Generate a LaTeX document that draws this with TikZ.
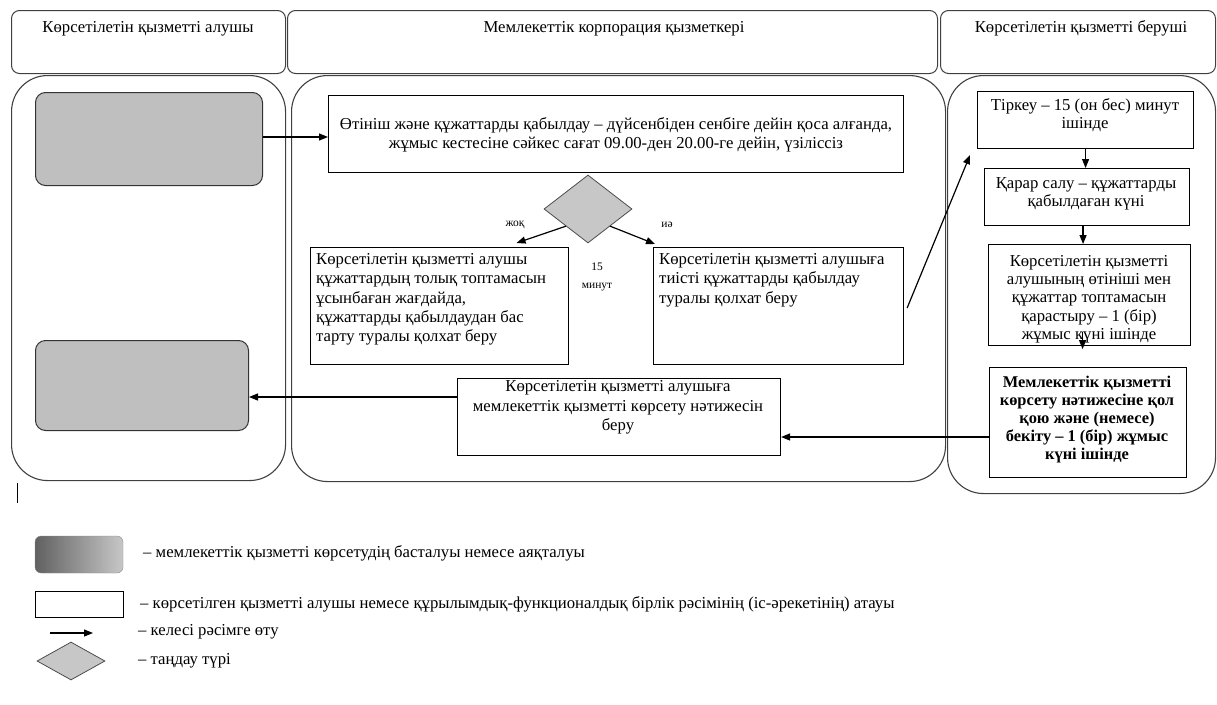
\documentclass[tikz,border=0pt]{standalone}
\usepackage{fontspec}
\setmainfont{Liberation Serif}
\usetikzlibrary{arrows.meta,shapes.geometric,calc}
\begin{document}
\begin{tikzpicture}[x=1pt,y=-1pt,
  hdr/.style={draw=black!75, line width=1pt, rounded corners=8pt, anchor=north west, inner sep=0pt},
  lane/.style={draw=black!75, line width=1.1pt, rounded corners=36pt, anchor=north west, inner sep=0pt},
  stepbox/.style={draw=black, line width=1.1pt, anchor=north west, inner sep=0pt},
  term/.style={draw=black!80, fill=black!25, line width=1pt, rounded corners=10pt, anchor=north west, inner sep=0pt},
  dia/.style={diamond, draw=black!70, fill=black!22, line width=0.8pt, inner sep=0pt},
  txt/.style={font=\fontsize{16.7}{19.4}\selectfont, inner sep=0pt},
  rtxt/.style={font=\fontsize{16.7}{18.3}\selectfont, inner sep=0pt, align=center},
  small/.style={font=\fontsize{11.5}{18}\selectfont, inner sep=0pt, align=center},
  legtxt/.style={font=\fontsize{16.7}{18}\selectfont, inner sep=0pt, anchor=west},
  arr/.style={-{Triangle[length=9pt,width=7pt]}, line width=1.2pt},
]
\useasboundingbox (0,0) rectangle (1217,704);

% headers
\node[hdr, minimum width=274, minimum height=63] (h1) at (11,10) {};
\node[hdr, minimum width=650, minimum height=63] (h2) at (287,10) {};
\node[hdr, minimum width=275, minimum height=63] (h3) at (940,10) {};
\node[txt, anchor=base] (h1t) at (148,32) {Көрсетілетін қызметті алушы};
\node[txt, anchor=base] (h2t) at (614,32) {Мемлекеттік корпорация қызметкері};
\node[txt, anchor=base] (h3t) at (1081,32) {Көрсетілетін қызметті беруші};

% lanes
\node[lane, minimum width=274, minimum height=405] (L1) at (11,75) {};
\node[lane, minimum width=654, minimum height=406] (L2) at (291,75) {};
\node[lane, minimum width=268, minimum height=418] (L3) at (947,75) {};
\draw[line width=1pt] (17,483) -- (17,503);

% left lane
\node[term, minimum width=227, minimum height=93] (st) at (35,92) {};
\node[term, minimum width=213, minimum height=90] (fin) at (35,340) {};

% middle lane
\node[stepbox, minimum width=575, minimum height=77] (mb) at (328,95) {};
\node[txt, align=center, anchor=north] (mbt) at (616,117)
  {Өтініш және құжаттарды қабылдау – дүйсенбіден сенбіге дейін қоса алғанда,\\
   жұмыс кестесіне сәйкес сағат 09.00-ден 20.00-ге дейін, үзіліссіз};
\node[dia, minimum width=88, minimum height=68] (d) at (588,209) {};
\node[small] (no) at (515,225) {жоқ};
\node[small] (yes) at (667,225) {иә};
\node[stepbox, minimum width=258, minimum height=117] (ll) at (310,247) {};
\node[txt, align=left, anchor=north west] (llt) at (316,253)
  {Көрсетілетін қызметті алушы\\құжаттардың толық топтамасын\\ұсынбаған жағдайда,\\құжаттарды қабылдаудан бас\\тарту туралы қолхат беру};
\node[small, anchor=north] (mins) at (597,263) {15\\минут};
\node[stepbox, minimum width=250, minimum height=117] (lr) at (653,247) {};
\node[txt, align=left, anchor=north west] (lrt) at (659,253)
  {Көрсетілетін қызметті алушыға\\тиісті құжаттарды қабылдау\\туралы қолхат беру};
\node[stepbox, minimum width=323, minimum height=77] (res) at (457,378) {};
\node[txt, align=center, anchor=north] (rest) at (618,380.5)
  {Көрсетілетін қызметті алушыға\\мемлекеттік қызметті көрсету нәтижесін\\беру};

% right lane
\node[stepbox, minimum width=216, minimum height=57] (t1) at (977,91) {};
\node[rtxt, anchor=north] (t1t) at (1085,98.5) {Тіркеу – 15 (он бес) минут\\ішінде};
\node[stepbox, minimum width=205, minimum height=57] (t2) at (984,168) {};
\node[rtxt, anchor=north] (t2t) at (1086,177.5) {Қарар салу – құжаттарды\\қабылдаған күні};
\node[stepbox, minimum width=202, minimum height=101] (t3) at (988,244) {};
\node[rtxt, anchor=north] (t3t) at (1089,255) {Көрсетілетін қызметті\\алушының өтініші мен\\құжаттар топтамасын\\қарастыру – 1 (бір)\\жұмыс күні ішінде};
\node[stepbox, minimum width=197, minimum height=110] (t4) at (989,367) {};
\node[rtxt, anchor=north, font=\fontsize{16.4}{18}\selectfont\bfseries] (t4t) at (1087,376) {Мемлекеттік қызметті\\көрсету нәтижесіне қол\\қою және (немесе)\\бекіту – 1 (бір) жұмыс\\күні ішінде};

% connectors
\draw[arr] (st.east |- 0,137) -- (mb.west |- 0,137);
\draw[arr] (d.south west) -- ([shift={(77,-4)}]ll.north);
\draw[arr] (d.south east) -- ([shift={(2,-3)}]lr.north west);
\draw[arr] ([shift={(3,2)}]lr.east) -- ([shift={(-7,6)}]t1.south west);
\draw[arr] (t1.south) -- (t1.south |- t2.north);
\draw[arr] ([xshift=-4pt]t2.south) -- ([xshift=-4pt]t2.south |- t3.north);
\coordinate (t3a) at ([shift={(-7,-14)}]t3.south);
\draw[arr] (t3a) -- ([shift={(-7,3)}]t3.south);
\draw[arr] (t4.west |- 0,437) -- (res.east |- 0,437);
\draw[arr] (res.west |- 0,397) -- (fin.east |- 0,397);

% legend
\shade[draw=black!45, rounded corners=6pt, shading angle=60, left color=black!62, right color=black!22] (35,536) rectangle (123,573);
\node[inner sep=0pt] (lg1) at (79,554.5) {};
\node[legtxt] (lg1t) at (143,553) {– мемлекеттік қызметті көрсетудің басталуы немесе аяқталуы};
\node[stepbox, minimum width=88, minimum height=26] (lg2) at (35,591) {};
\node[legtxt] (lg2t) at (140,604) {– көрсетілген қызметті алушы немесе құрылымдық-функционалдық бірлік рәсімінің (іс-әрекетінің) атауы};
\coordinate (la) at (50,633);
\coordinate (lb) at (93,633);
\draw[arr] (la) -- (lb);
\node[legtxt] (lg3t) at (138,632) {– келесі рәсімге өту};
\node[dia, minimum width=68, minimum height=38] (lg4) at (71,661) {};
\node[legtxt] (lg4t) at (138,661) {– таңдау түрі};
\end{tikzpicture}
\end{document}
